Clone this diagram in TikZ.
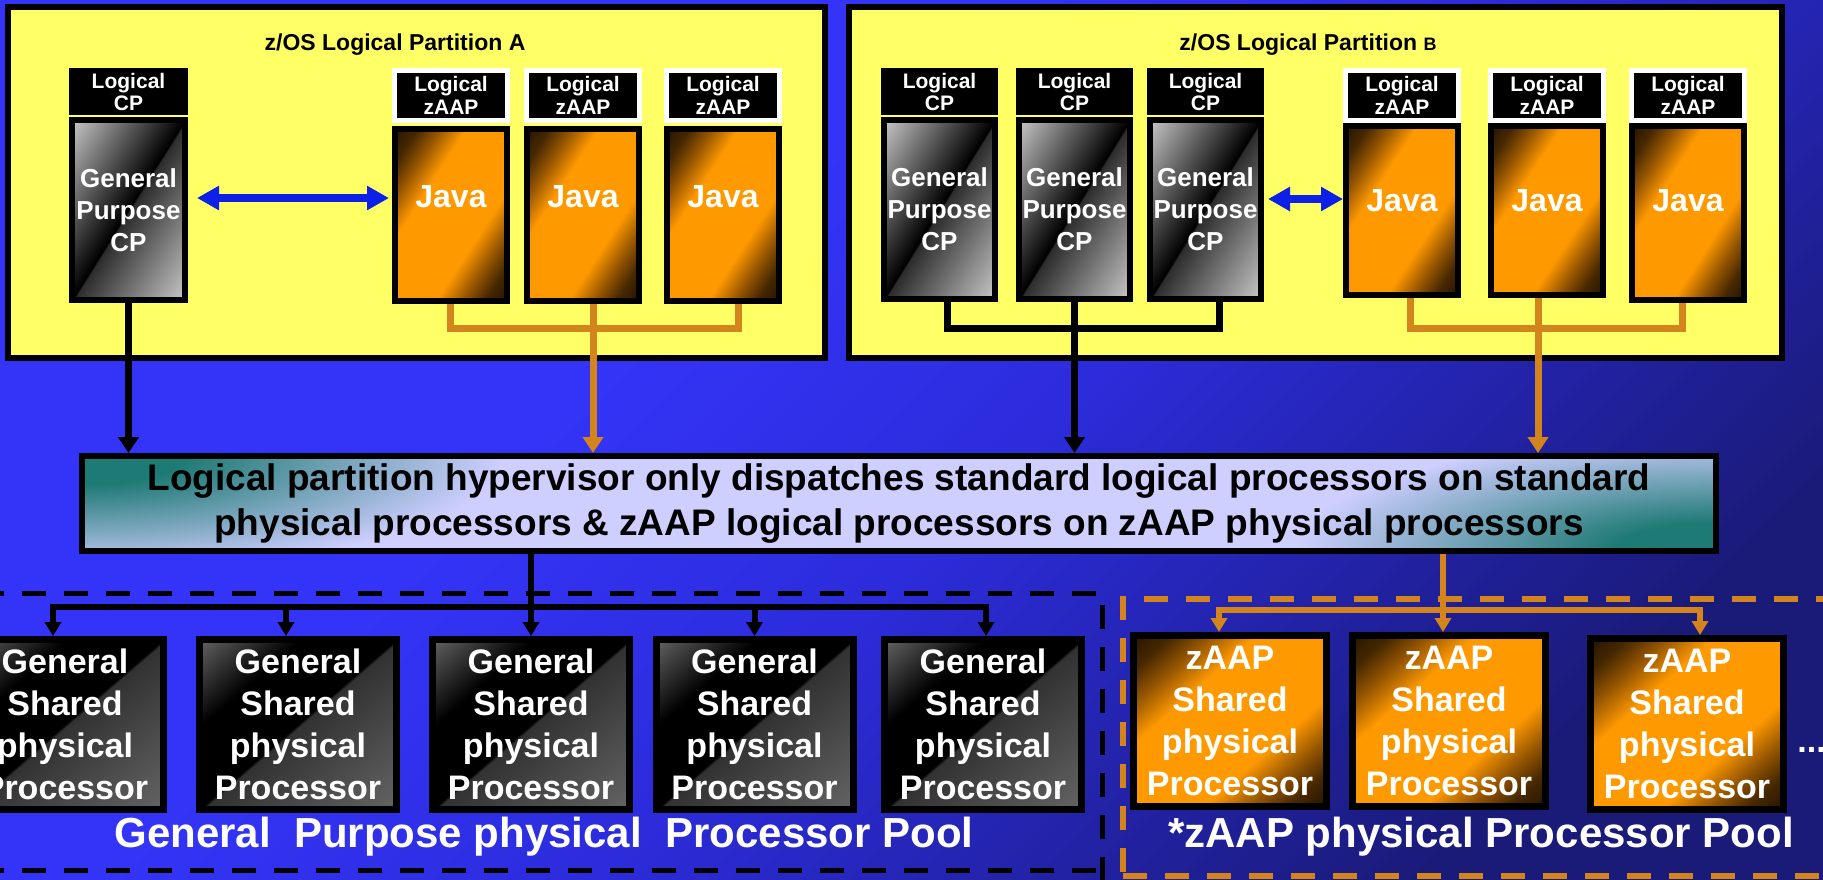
\documentclass[tikz,border=0pt]{standalone}
\usepackage{fontspec}
\setmainfont{Liberation Sans}
\usetikzlibrary{arrows.meta,calc}

\definecolor{bgdark}{RGB}{26,26,120}
\definecolor{bgmid}{RGB}{44,44,220}
\definecolor{bgbright}{RGB}{52,52,248}
\definecolor{partyellow}{RGB}{255,255,102}
\definecolor{orfill}{RGB}{255,153,0}
\definecolor{orbrown}{RGB}{150,86,0}
\definecolor{ormid}{RGB}{70,40,0}
\definecolor{ordark}{RGB}{36,20,0}
\definecolor{orline}{RGB}{212,132,28}
\definecolor{arrowblue}{RGB}{12,32,232}
\definecolor{lav}{RGB}{206,206,255}
\definecolor{hvteal}{RGB}{30,122,116}
\definecolor{gplight}{RGB}{200,200,200}
\definecolor{gpdark}{RGB}{45,45,45}
\definecolor{shlight}{RGB}{100,100,100}
\definecolor{shdark}{RGB}{50,50,50}

\pgfdeclareverticalshading{bgshade}{100bp}{color(0bp)=(bgdark); color(25bp)=(bgdark); color(47bp)=(bgmid); color(60bp)=(bgbright); color(100bp)=(bgbright)}
% diagonal shadings: 25bp = bottom-right corner, 50bp = diagonal, 75bp = top-left corner
\pgfdeclareverticalshading{gpcpshade}{100bp}{color(0bp)=(gplight); color(25bp)=(gplight); color(49.5bp)=(gpdark); color(50bp)=(black); color(75bp)=(gplight); color(100bp)=(gplight)}
\pgfdeclareverticalshading{orshade}{100bp}{color(0bp)=(ordark); color(25bp)=(ordark); color(30bp)=(ormid); color(35bp)=(orbrown); color(41bp)=(orfill); color(59bp)=(orfill); color(65bp)=(orbrown); color(70bp)=(ormid); color(75bp)=(ordark); color(100bp)=(ordark)}
\pgfdeclareverticalshading{shshade}{100bp}{color(0bp)=(shlight); color(25bp)=(shlight); color(49.5bp)=(shdark); color(50bp)=(black); color(62bp)=(black); color(75bp)=(shlight); color(100bp)=(shlight)}
\pgfdeclareradialshading{tealcorner}{\pgfpoint{0bp}{0bp}}{color(0bp)=(hvteal); color(6bp)=(hvteal); color(25bp)=(lav); color(50bp)=(lav)}

% diagonal shading of a box: centre x, centre y (px), width, height (pt), shading
\newcommand{\dshade}[5]{%
  \pgfmathsetmacro{\dsx}{#3/20}\pgfmathsetmacro{\dsy}{#4/20}%
  \begin{scope}
    \clip ($(#1,#2)+(-#3pt/2,-#4pt/2)$) rectangle ($(#1,#2)+(#3pt/2,#4pt/2)$);
    \begin{scope}[transform canvas={shift={(#1,#2)}, xscale=\dsx, yscale=\dsy, rotate=45}]
      \shade[shading=#5] (-14.1422pt,-14.1422pt) rectangle (14.1422pt,14.1422pt);
    \end{scope}
  \end{scope}}

\tikzset{
  partbox/.style={draw=black, line width=3pt, fill=partyellow, inner sep=0pt, minimum height=175.5pt},
  ptitle/.style={font=\bfseries\fontsize{11.5}{13}\selectfont, inner sep=0pt},
  lcp/.style={fill=black, inner sep=0pt, minimum width=59.5pt, minimum height=23.5pt, text=white, align=center, font=\bfseries\fontsize{10.5}{11}\selectfont},
  lzaap/.style={draw=white, line width=2.5pt, fill=black, inner sep=0pt, minimum width=56.5pt, minimum height=25pt, text=white, align=center, font=\bfseries\fontsize{10.5}{11.5}\selectfont},
  gpcp/.style={draw=black, line width=3pt, inner sep=0pt, minimum width=56.5pt, minimum height=90pt, text=white, align=center, font=\bfseries\fontsize{13}{16}\selectfont},
  java/.style={draw=black, line width=3pt, inner sep=0pt, minimum width=56pt, minimum height=86pt},
  javatext/.style={text=white, inner sep=0pt, font=\bfseries\fontsize{16}{19}\selectfont},
  hypbox/.style={draw=black, line width=3pt, inner sep=0pt, minimum width=817pt, minimum height=47.5pt, align=center, font=\bfseries\fontsize{18.5}{22.5}\selectfont},
  gpshared/.style={draw=black, line width=3.5pt, inner sep=0pt, minimum width=98.5pt, minimum height=85pt, text=white, align=center, font=\bfseries\fontsize{17}{21}\selectfont},
  zshared/.style={draw=black, line width=3.5pt, inner sep=0pt, minimum width=96.5pt, minimum height=85.5pt, text=white, align=center, font=\bfseries\fontsize{17}{21}\selectfont},
  poollabel/.style={text=white, inner sep=0pt, font=\bfseries\fontsize{21}{24}\selectfont},
  kline/.style={draw=black, line width=3.5pt},
  okline/.style={draw=orline, line width=3.5pt},
  ktip/.style={-{Triangle[width=10pt,length=8pt]}},
  smalltip/.style={-{Triangle[width=8pt,length=7pt]}},
  kbline/.style={draw=black, line width=3pt},
  obline/.style={draw=orline, line width=3pt},
  bluearrow/.style={draw=arrowblue, line width=4pt, {Triangle[width=11.5pt,length=11pt]}-{Triangle[width=11.5pt,length=11pt]}},
  kdash/.style={draw=black, line width=2.5pt, dash pattern=on 12pt off 9pt},
  odash/.style={draw=orline, line width=3pt, dash pattern=on 12pt off 9pt},
}

\begin{document}
\begin{tikzpicture}[x=0.5pt, y=-0.5pt]
\useasboundingbox (0,0) rectangle (1823,879);
\clip (0,0) rectangle (1823,879);
\shade[shading=bgshade, shading angle=45] (-5,-5) rectangle (1830,885);

% ---------- Partition A ----------
\node[partbox, minimum width=408.5pt] (partA) at (416.5,182.5) {};
\node[ptitle] (titleA) at (395,45) {z/OS Logical Partition A};
\node[lcp] (lcpA) at (128.5,91.5) {Logical\\CP};
\dshade{128.5}{210}{56.5}{90}{gpcpshade}
\node[gpcp] (gpA) at (128.5,210) {General\\Purpose\\CP};
\node[lzaap] (zlA1) at (451,95.5) {Logical\\zAAP};
\node[lzaap] (zlA2) at (583,95.5) {Logical\\zAAP};
\node[lzaap] (zlA3) at (723,95.5) {Logical\\zAAP};
\dshade{451}{215}{56}{86}{orshade}
\dshade{583}{215}{56}{86}{orshade}
\dshade{723}{215}{56}{86}{orshade}
\node[java] (jA1) at (451,215) {};
\node[java] (jA2) at (583,215) {};
\node[java] (jA3) at (723,215) {};
\node[javatext] (jtA1) at ([yshift=9pt]jA1.center) {Java};
\node[javatext] (jtA2) at ([yshift=9pt]jA2.center) {Java};
\node[javatext] (jtA3) at ([yshift=9pt]jA3.center) {Java};

% ---------- Partition B ----------
\node[partbox, minimum width=466.5pt] (partB) at (1315.5,182.5) {};
\node[ptitle] (titleB) at (1308,45) {z/OS Logical Partition {\fontsize{9}{9}\selectfont B}};
\node[lcp, minimum width=58.5pt] (lcpB1) at (939.5,91.5) {Logical\\CP};
\node[lcp, minimum width=58.5pt] (lcpB2) at (1074.5,91.5) {Logical\\CP};
\node[lcp, minimum width=58.5pt] (lcpB3) at (1205.5,91.5) {Logical\\CP};
\dshade{939.5}{209.5}{55.5}{89.5}{gpcpshade}
\dshade{1074.5}{209.5}{55.5}{89.5}{gpcpshade}
\dshade{1205.5}{209.5}{55.5}{89.5}{gpcpshade}
\node[gpcp, minimum width=55.5pt, minimum height=89.5pt] (gpB1) at (939.5,209.5) {General\\Purpose\\CP};
\node[gpcp, minimum width=55.5pt, minimum height=89.5pt] (gpB2) at (1074.5,209.5) {General\\Purpose\\CP};
\node[gpcp, minimum width=55.5pt, minimum height=89.5pt] (gpB3) at (1205.5,209.5) {General\\Purpose\\CP};
\node[lzaap] (zlB1) at (1402,95.5) {Logical\\zAAP};
\node[lzaap] (zlB2) at (1547,95.5) {Logical\\zAAP};
\node[lzaap] (zlB3) at (1688,95.5) {Logical\\zAAP};
\dshade{1402}{210.5}{56}{84.5}{orshade}
\dshade{1547}{210.5}{56}{84.5}{orshade}
\dshade{1688}{213}{56}{87}{orshade}
\node[java, minimum height=84.5pt] (jB1) at (1402,210.5) {};
\node[java, minimum height=84.5pt] (jB2) at (1547,210.5) {};
\node[java, minimum height=87pt] (jB3) at (1688,213) {};
\node[javatext] (jtB1) at ([yshift=4.75pt]jB1.center) {Java};
\node[javatext] (jtB2) at ([yshift=4.75pt]jB2.center) {Java};
\node[javatext] (jtB3) at ([yshift=6pt]jB3.center) {Java};

% ---------- Hypervisor ----------
\begin{scope}
  \clip (82,456) rectangle (1716,551);
  \fill[lav] (82,456) rectangle (1716,551);
  \shade[shading=tealcorner] (82,456) ellipse [x radius=210pt, y radius=58pt];
  \shade[shading=tealcorner] (1716,551) ellipse [x radius=210pt, y radius=58pt];
\end{scope}
\node[hypbox] (hyp) at (899,503.5) {Logical partition hypervisor only dispatches standard logical processors on standard\\physical processors \& zAAP logical processors on zAAP physical processors};

% blue arrows
\coordinate (yA) at (0,198);
\coordinate (yB) at (0,199);
\draw[bluearrow, shorten <=4.5pt, shorten >=1.5pt] (gpA.east |- yA) -- (jA1.west |- yA);
\draw[bluearrow, shorten <=2pt, shorten >=0pt] (gpB3.east |- yB) -- (jB1.west |- yB);

% partition connectors
\coordinate (busA) at (593,328);
\coordinate (busB) at (1075,328);
\coordinate (busOB) at (1538,328);
\draw[kline, ktip] (gpA.south) -- (gpA.south |- hyp.north);
\draw[okline] ([xshift=-0.5pt]jA1.south) |- (busA) -| ([xshift=7.5pt]jA3.south);
\draw[okline, ktip] ([xshift=5pt]jA2.south) -- ([xshift=5pt]jA2.south |- hyp.north);
\draw[kline] ([xshift=3.75pt]gpB1.south) |- (busB) -| ([xshift=6.75pt]gpB3.south);
\draw[kline, ktip] (gpB2.south) -- (gpB2.south |- hyp.north);
\draw[okline] ([xshift=4pt]jB1.south) |- (busOB) -| ([xshift=-3pt]jB3.south);
\draw[okline, ktip] ([xshift=-4.5pt]jB2.south) -- ([xshift=-4.5pt]jB2.south |- hyp.north);

% ---------- Pools ----------
\draw[kdash] (-20,593) -- (1102,593) -- (1102,890);
\draw[kdash] (-20,870) -- (1102,870);
\draw[odash] (1840,599) -- (1123,599) -- (1123,890);
\draw[odash] (1123,876) -- (1840,876);

\dshade{65}{724.5}{98.5}{85}{shshade}
\dshade{298}{724.5}{98.5}{85}{shshade}
\dshade{531}{724.5}{98.5}{85}{shshade}
\dshade{754.5}{724.5}{98.5}{85}{shshade}
\dshade{983}{724.5}{98.5}{85}{shshade}
\node[gpshared] (gp1) at (65,724.5) {General\\Shared\\physical\\Processor};
\node[gpshared] (gp2) at (298,724.5) {General\\Shared\\physical\\Processor};
\node[gpshared] (gp3) at (531,724.5) {General\\Shared\\physical\\Processor};
\node[gpshared] (gp4) at (754.5,724.5) {General\\Shared\\physical\\Processor};
\node[gpshared] (gp5) at (983,724.5) {General\\Shared\\physical\\Processor};

\dshade{1230}{721}{96.5}{85.5}{orshade}
\dshade{1449}{721}{96.5}{85.5}{orshade}
\dshade{1687}{724}{96.5}{85.5}{orshade}
\node[zshared] (zb1) at (1230,721) {zAAP\\Shared\\physical\\Processor};
\node[zshared] (zb2) at (1449,721) {zAAP\\Shared\\physical\\Processor};
\node[zshared] (zb3) at (1687,724) {zAAP\\Shared\\physical\\Processor};

\node[poollabel] (poolG) at (544,837) {General~ Purpose physical~ Processor Pool};
\node[poollabel] (poolZ) at (1481,837) {*zAAP physical Processor Pool};
\node[text=white, inner sep=0pt, anchor=base west, font=\bfseries\fontsize{17}{21}\selectfont] (dots) at (1797,752) {...};

% bottom connectors
\coordinate (bbus) at (531,607);
\coordinate (obus) at (1443,610);
\draw[kbline, smalltip] (gp3.north |- hyp.south) -- (gp3.north);
\draw[kbline, smalltip] (bbus) -| ([xshift=-6pt]gp1.north);
\draw[kbline, smalltip] (bbus) -| ([xshift=1.5pt]gp5.north);
\draw[kbline, smalltip] ([xshift=-6pt]gp2.north |- bbus) -- ([xshift=-6pt]gp2.north);
\draw[kbline, smalltip] (gp4.north |- bbus) -- (gp4.north);
\draw[obline, smalltip] ([xshift=-3pt]zb2.north |- hyp.south) -- ([xshift=-3pt]zb2.north);
\draw[obline, smalltip] (obus) -| ([xshift=-5.5pt]zb1.north);
\draw[obline, smalltip] (obus) -| ([xshift=6.5pt]zb3.north);
\end{tikzpicture}
\end{document}
